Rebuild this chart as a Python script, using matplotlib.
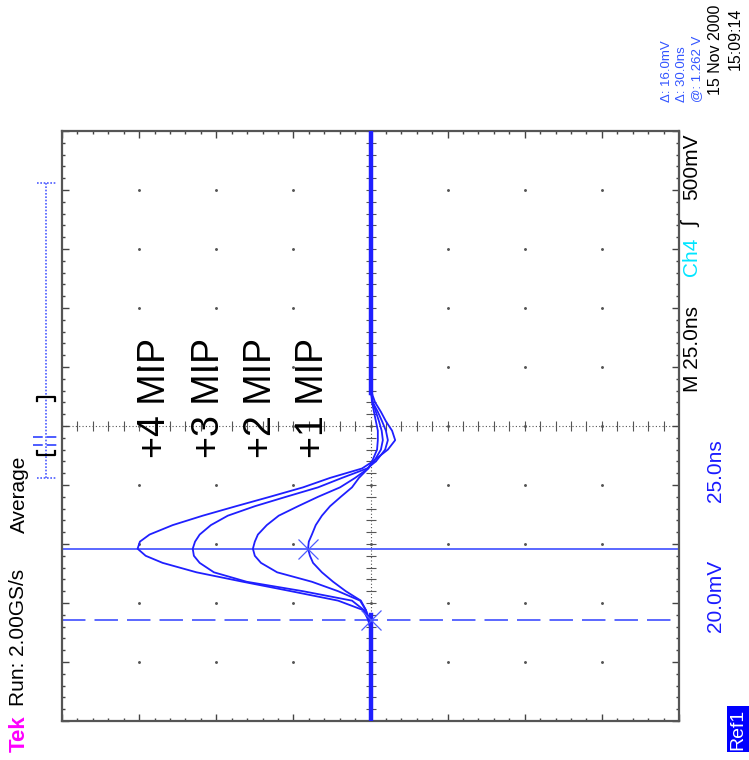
import numpy as np
import matplotlib.pyplot as plt
from matplotlib.lines import Line2D

plt.rcParams['font.family'] = ['Liberation Sans', 'DejaVu Sans']

# tempo (ns) relativo ao centro da tela, 25 ns/div
tempo = [-125, -86, -82, -78, -74, -70, -66, -62, -58, -55, -52, -49, -46, -42,
         -38, -34, -30, -26, -22, -18, -15, -10, -6, -2, 2, 6, 10, 15, 125]

# tensao (mV) de cada curva, 20 mV/div
mip4 = [0, 0, 0.6, 1.9, 8.4, 20.6, 33.1, 45.1, 53.9, 58.3, 60.4, 59.8, 57.3, 51.3,
        43.5, 34.9, 26.1, 17.5, 10.5, 2.2, -0.6, -4.5, -6.4, -5.6, -4.0, -2.7, -1.2, -0.1, 0]
mip3 = [0, 0, 0.6, 1.7, 4.8, 17.5, 32.1, 40.6, 44.3, 45.8, 46.1, 45.5, 44.3, 41.4,
        37.0, 30.0, 21.9, 13.6, 7.4, 0.9, -1.4, -3.8, -4.5, -4.0, -3.0, -1.9, -0.6, -0.1, 0]
mip2 = [0, 0, 0.4, 1.2, 2.7, 8.4, 15.2, 24.2, 28.4, 30.0, 30.5, 30.0, 29.2, 26.9,
        23.8, 18.8, 13.6, 7.9, 4.0, 0.6, -0.9, -2.7, -3.2, -2.9, -2.2, -1.4, -0.6, -0.1, 0]
mip1 = [0, 0, 0.4, 1.2, 2.5, 6.4, 9.7, 12.6, 14.9, 15.7, 16.2, 16.0, 15.2, 14.2,
        12.6, 10.5, 7.7, 4.8, 3.0, 0.6, -0.4, -1.7, -1.9, -1.9, -1.4, -0.9, -0.4, -0.1, 0]

curvas = [mip4, mip3, mip2, mip1]
rotulos = ['+4 MIP', '+3 MIP', '+2 MIP', '+1 MIP']
rotulo_v = [56, 42, 28.5, 15]     # posicao dos rotulos (mV)
rotulo_t = [12, 12, 12, 12]

linha_base_t = [[-125, -80], [14, 125]]
cursor_t = [-52.2, -82.2]          # cursores (ns), delta 30 ns
cursor_v = [16.2, 0.0]

W, H = 749, 760
fig = plt.figure(figsize=(W / 100, H / 100), dpi=100)
fig.patch.set_facecolor('white')

def fx(x):
    return x / W

def fy(y):
    return 1 - y / H

ax = fig.add_axes([fx(62), fy(721), 617 / W, 590 / H])
ax.set_xlim(80, -80)
ax.set_ylim(-125, 125)

azul = '#1f1fff'
azul_cursor = '#4d5cff'

# graticula estilo Tek
ax.set_xticks(np.arange(-80, 81, 20))
ax.set_yticks(np.arange(-125, 126, 25))
ax.set_xticks(np.arange(-80, 81, 4), minor=True)
ax.set_yticks(np.arange(-125, 126, 5), minor=True)
ax.tick_params(which='both', direction='in', top=True, right=True,
               labelbottom=False, labelleft=False, color='#444444')
ax.tick_params(which='major', length=5, width=1)
ax.tick_params(which='minor', length=2.5, width=1)
for s in ax.spines.values():
    s.set_color('#555555')
    s.set_linewidth(1.6)

gx, gy = np.meshgrid(np.arange(-60, 61, 20), np.arange(-100, 101, 25))
ax.scatter(gx.ravel(), gy.ravel(), s=1.2, color='#555555', zorder=1)
ax.axvline(0, color='#555555', lw=0.8, ls=(0, (1, 2)), zorder=1)
ax.axhline(0, color='#555555', lw=0.8, ls=(0, (1, 2)), zorder=1)
mt = np.arange(-125, 126, 5)
ax.plot(np.zeros_like(mt), mt, ls='none', marker='_', ms=7, mew=0.8, color='#555555', zorder=1)
mv = np.arange(-80, 81, 4)
ax.plot(mv, np.zeros_like(mv), ls='none', marker='|', ms=7, mew=0.8, color='#555555', zorder=1)

# curvas
for seg in linha_base_t:
    ax.plot([0, 0], seg, color=azul, lw=3.2, zorder=3)
for c in curvas:
    ax.plot(c, tempo, color=azul, lw=1.3, zorder=3)

for r, v, t in zip(rotulos, rotulo_v, rotulo_t):
    ax.text(v, t, r, rotation=90, ha='center', va='center', fontsize=27, color='black')

# cursores
ax.axhline(cursor_t[0], color=azul_cursor, lw=1.3, zorder=2)
ax.axhline(cursor_t[1], color=azul_cursor, lw=1.3, ls=(0, (13, 5)), zorder=2)
ax.plot(cursor_v, cursor_t, ls='none', marker='x', ms=15, mew=0.9, color=azul_cursor, zorder=4)

# textos da tela (rotacionados)
def texto(x, y, s, cor='black', tam=15, **kw):
    fig.text(fx(x), fy(y), s, rotation=90, ha='center', va='bottom', color=cor, fontsize=tam, **kw)

texto(19, 752, 'Tek', cor='#ff00ff', tam=16, fontweight='bold')
texto(19, 706, 'Run: 2.00GS/s')
texto(19, 533, 'Average')

texto(692, 200, '500mV')
texto(692, 227, '\u0283')
texto(692, 276, 'Ch4', cor='#00e5ff')
texto(692, 392, 'M 25.0ns')
texto(716, 502, '25.0ns', cor='#1a1aff')
texto(716, 632, '20.0mV', cor='#1a1aff')
fig.text(fx(738), fy(750), 'Ref1', rotation=90, ha='center', va='bottom', color='white', fontsize=14,
         bbox=dict(boxstyle='square,pad=0.12', fc='#0000ff', ec='none'))

# leitura dos cursores e data
texto(667, 102, '\u0394: 16.0mV', cor='#3355ff', tam=9.5)
texto(682, 102, '\u0394: 30.0ns', cor='#3355ff', tam=9.5)
texto(697, 102, '@: 1.262 V', cor='#3355ff', tam=9.5)
texto(715, 95, '15 Nov 2000', tam=11.5)
texto(735, 70, '15:09:14', tam=11.5)

# barra de registro (canto superior esquerdo)
def linha(xs, ys, **kw):
    fig.add_artist(Line2D([fx(x) for x in xs], [fy(y) for y in ys], **kw))

linha([46, 46], [183, 478], color=azul_cursor, lw=1.2, ls=(0, (1, 1)))
linha([37, 57], [183, 183], color=azul_cursor, lw=1.2, ls=(0, (1, 1)))
linha([37, 57], [478, 478], color=azul_cursor, lw=1.2, ls=(0, (1, 1)))
for yb, d in [(397, 4), (455, -4)]:
    linha([37, 37, 55, 55], [yb + d, yb, yb, yb + d], color='black', lw=1.6)
linha([33, 59], [437, 437], color=azul_cursor, lw=1.4, ls=(0, (5, 2)))
linha([33, 59], [445, 445], color=azul_cursor, lw=1.4, ls=(0, (5, 2)))

fig.savefig('out.png', dpi=100)
